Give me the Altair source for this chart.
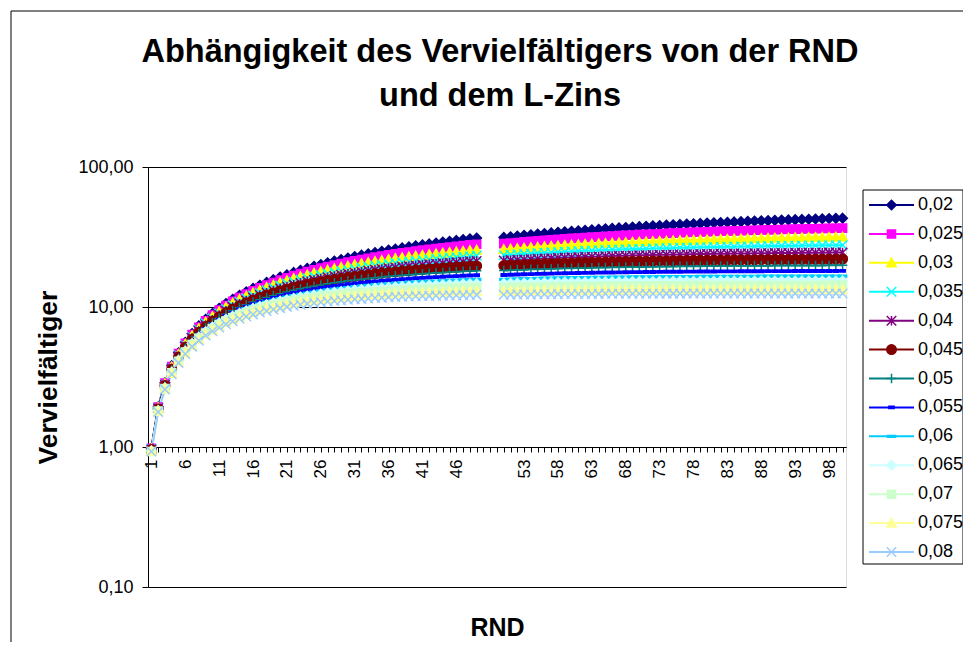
import json
import altair as alt
import pandas as pd

# ---------------- data ----------------
zins = ["0,02", "0,025", "0,03", "0,035", "0,04", "0,045", "0,05",
        "0,055", "0,06", "0,065", "0,07", "0,075", "0,08"]
rnd = list(range(1, 101))
gap_labels = [" ", "  ", "   "]  # three empty rows between RND 49 and 50

v_002 = [0.98, 1.94, 2.88, 3.81, 4.71, 5.60, 6.47, 7.33, 8.16, 8.98,
         9.79, 10.58, 11.35, 12.11, 12.85, 13.58, 14.29, 14.99, 15.68, 16.35,
         17.01, 17.66, 18.29, 18.91, 19.52, 20.12, 20.71, 21.28, 21.84, 22.40,
         22.94, 23.47, 23.99, 24.50, 25.00, 25.49, 25.97, 26.44, 26.90, 27.36,
         27.80, 28.23, 28.66, 29.08, 29.49, 29.89, 30.29, 30.67, 31.05, 31.42,
         31.79, 32.14, 32.50, 32.84, 33.17, 33.50, 33.83, 34.15, 34.46, 34.76,
         35.06, 35.35, 35.64, 35.92, 36.20, 36.47, 36.73, 36.99, 37.25, 37.50,
         37.74, 37.98, 38.22, 38.45, 38.68, 38.90, 39.12, 39.33, 39.54, 39.74,
         39.95, 40.14, 40.34, 40.53, 40.71, 40.89, 41.07, 41.25, 41.42, 41.59,
         41.75, 41.91, 42.07, 42.23, 42.38, 42.53, 42.68, 42.82, 42.96, 43.10]
v_0025 = [0.98, 1.93, 2.86, 3.76, 4.65, 5.51, 6.35, 7.17, 7.97, 8.75,
          9.51, 10.26, 10.98, 11.69, 12.38, 13.06, 13.71, 14.35, 14.98, 15.59,
          16.18, 16.77, 17.33, 17.89, 18.42, 18.95, 19.46, 19.96, 20.45, 20.93,
          21.40, 21.85, 22.29, 22.72, 23.15, 23.56, 23.96, 24.35, 24.73, 25.10,
          25.47, 25.82, 26.17, 26.50, 26.83, 27.15, 27.47, 27.77, 28.07, 28.36,
          28.65, 28.92, 29.19, 29.46, 29.71, 29.96, 30.21, 30.45, 30.68, 30.91,
          31.13, 31.35, 31.56, 31.76, 31.96, 32.16, 32.35, 32.54, 32.72, 32.90,
          33.07, 33.24, 33.41, 33.57, 33.72, 33.88, 34.03, 34.17, 34.31, 34.45,
          34.59, 34.72, 34.85, 34.97, 35.10, 35.22, 35.33, 35.45, 35.56, 35.67,
          35.77, 35.87, 35.98, 36.07, 36.17, 36.26, 36.35, 36.44, 36.53, 36.61]
v_003 = [0.97, 1.91, 2.83, 3.72, 4.58, 5.42, 6.23, 7.02, 7.79, 8.53,
         9.25, 9.95, 10.64, 11.30, 11.94, 12.56, 13.17, 13.75, 14.32, 14.88,
         15.42, 15.94, 16.44, 16.94, 17.41, 17.88, 18.33, 18.76, 19.19, 19.60,
         20.00, 20.39, 20.77, 21.13, 21.49, 21.83, 22.17, 22.49, 22.81, 23.11,
         23.41, 23.70, 23.98, 24.25, 24.52, 24.78, 25.02, 25.27, 25.50, 25.73,
         25.95, 26.17, 26.38, 26.58, 26.77, 26.97, 27.15, 27.33, 27.51, 27.68,
         27.84, 28.00, 28.16, 28.31, 28.45, 28.60, 28.73, 28.87, 29.00, 29.12,
         29.25, 29.37, 29.48, 29.59, 29.70, 29.81, 29.91, 30.01, 30.11, 30.20,
         30.29, 30.38, 30.47, 30.55, 30.63, 30.71, 30.79, 30.86, 30.93, 31.00,
         31.07, 31.14, 31.20, 31.26, 31.32, 31.38, 31.44, 31.49, 31.55, 31.60]
v_0035 = [0.97, 1.90, 2.80, 3.67, 4.52, 5.33, 6.11, 6.87, 7.61, 8.32,
          9.00, 9.66, 10.30, 10.92, 11.52, 12.09, 12.65, 13.19, 13.71, 14.21,
          14.70, 15.17, 15.62, 16.06, 16.48, 16.89, 17.29, 17.67, 18.04, 18.39,
          18.74, 19.07, 19.39, 19.70, 20.00, 20.29, 20.57, 20.84, 21.10, 21.36,
          21.60, 21.83, 22.06, 22.28, 22.50, 22.70, 22.90, 23.09, 23.28, 23.46,
          23.63, 23.80, 23.96, 24.11, 24.26, 24.41, 24.55, 24.69, 24.82, 24.94,
          25.07, 25.19, 25.30, 25.41, 25.52, 25.62, 25.72, 25.82, 25.91, 26.00,
          26.09, 26.17, 26.25, 26.33, 26.41, 26.48, 26.55, 26.62, 26.69, 26.75,
          26.81, 26.87, 26.93, 26.98, 27.04, 27.09, 27.14, 27.19, 27.23, 27.28,
          27.32, 27.37, 27.41, 27.45, 27.48, 27.52, 27.56, 27.59, 27.62, 27.66]
v_004 = [0.96, 1.89, 2.78, 3.63, 4.45, 5.24, 6.00, 6.73, 7.44, 8.11,
         8.76, 9.39, 9.99, 10.56, 11.12, 11.65, 12.17, 12.66, 13.13, 13.59,
         14.03, 14.45, 14.86, 15.25, 15.62, 15.98, 16.33, 16.66, 16.98, 17.29,
         17.59, 17.87, 18.15, 18.41, 18.66, 18.91, 19.14, 19.37, 19.58, 19.79,
         19.99, 20.19, 20.37, 20.55, 20.72, 20.88, 21.04, 21.20, 21.34, 21.48,
         21.62, 21.75, 21.87, 21.99, 22.11, 22.22, 22.33, 22.43, 22.53, 22.62,
         22.71, 22.80, 22.89, 22.97, 23.05, 23.12, 23.19, 23.26, 23.33, 23.39,
         23.46, 23.52, 23.57, 23.63, 23.68, 23.73, 23.78, 23.83, 23.87, 23.92,
         23.96, 24.00, 24.04, 24.07, 24.11, 24.14, 24.18, 24.21, 24.24, 24.27,
         24.30, 24.32, 24.35, 24.37, 24.40, 24.42, 24.44, 24.46, 24.49, 24.51]
v_0045 = [0.96, 1.87, 2.75, 3.59, 4.39, 5.16, 5.89, 6.60, 7.27, 7.91,
          8.53, 9.12, 9.68, 10.22, 10.74, 11.23, 11.71, 12.16, 12.59, 13.01,
          13.40, 13.78, 14.15, 14.50, 14.83, 15.15, 15.45, 15.74, 16.02, 16.29,
          16.54, 16.79, 17.02, 17.25, 17.46, 17.67, 17.86, 18.05, 18.23, 18.40,
          18.57, 18.72, 18.87, 19.02, 19.16, 19.29, 19.41, 19.54, 19.65, 19.76,
          19.87, 19.97, 20.07, 20.16, 20.25, 20.33, 20.41, 20.49, 20.57, 20.64,
          20.71, 20.77, 20.83, 20.89, 20.95, 21.01, 21.06, 21.11, 21.16, 21.20,
          21.25, 21.29, 21.33, 21.37, 21.40, 21.44, 21.47, 21.50, 21.54, 21.57,
          21.59, 21.62, 21.65, 21.67, 21.70, 21.72, 21.74, 21.76, 21.78, 21.80,
          21.82, 21.83, 21.85, 21.87, 21.88, 21.90, 21.91, 21.92, 21.94, 21.95]
v_005 = [0.95, 1.86, 2.72, 3.55, 4.33, 5.08, 5.79, 6.46, 7.11, 7.72,
         8.31, 8.86, 9.39, 9.90, 10.38, 10.84, 11.27, 11.69, 12.09, 12.46,
         12.82, 13.16, 13.49, 13.80, 14.09, 14.38, 14.64, 14.90, 15.14, 15.37,
         15.59, 15.80, 16.00, 16.19, 16.37, 16.55, 16.71, 16.87, 17.02, 17.16,
         17.29, 17.42, 17.55, 17.66, 17.77, 17.88, 17.98, 18.08, 18.17, 18.26,
         18.34, 18.42, 18.49, 18.57, 18.63, 18.70, 18.76, 18.82, 18.88, 18.93,
         18.98, 19.03, 19.08, 19.12, 19.16, 19.20, 19.24, 19.28, 19.31, 19.34,
         19.37, 19.40, 19.43, 19.46, 19.48, 19.51, 19.53, 19.56, 19.58, 19.60,
         19.62, 19.63, 19.65, 19.67, 19.68, 19.70, 19.71, 19.73, 19.74, 19.75,
         19.76, 19.78, 19.79, 19.80, 19.81, 19.82, 19.82, 19.83, 19.84, 19.85]
v_0055 = [0.95, 1.85, 2.70, 3.51, 4.27, 5.00, 5.68, 6.33, 6.95, 7.54,
          8.09, 8.62, 9.12, 9.59, 10.04, 10.46, 10.86, 11.25, 11.61, 11.95,
          12.28, 12.58, 12.88, 13.15, 13.41, 13.66, 13.90, 14.12, 14.33, 14.53,
          14.72, 14.90, 15.08, 15.24, 15.39, 15.54, 15.67, 15.80, 15.93, 16.05,
          16.16, 16.26, 16.36, 16.46, 16.55, 16.63, 16.71, 16.79, 16.86, 16.93,
          17.00, 17.06, 17.12, 17.17, 17.23, 17.28, 17.32, 17.37, 17.41, 17.45,
          17.49, 17.52, 17.56, 17.59, 17.62, 17.65, 17.68, 17.70, 17.73, 17.75,
          17.78, 17.80, 17.82, 17.84, 17.85, 17.87, 17.89, 17.90, 17.92, 17.93,
          17.94, 17.96, 17.97, 17.98, 17.99, 18.00, 18.01, 18.02, 18.03, 18.04,
          18.04, 18.05, 18.06, 18.06, 18.07, 18.08, 18.08, 18.09, 18.09, 18.10]
v_006 = [0.94, 1.83, 2.67, 3.47, 4.21, 4.92, 5.58, 6.21, 6.80, 7.36,
         7.89, 8.38, 8.85, 9.29, 9.71, 10.11, 10.48, 10.83, 11.16, 11.47,
         11.76, 12.04, 12.30, 12.55, 12.78, 13.00, 13.21, 13.41, 13.59, 13.76,
         13.93, 14.08, 14.23, 14.37, 14.50, 14.62, 14.74, 14.85, 14.95, 15.05,
         15.14, 15.22, 15.31, 15.38, 15.46, 15.52, 15.59, 15.65, 15.71, 15.76,
         15.81, 15.86, 15.91, 15.95, 15.99, 16.03, 16.06, 16.10, 16.13, 16.16,
         16.19, 16.22, 16.24, 16.27, 16.29, 16.31, 16.33, 16.35, 16.37, 16.38,
         16.40, 16.42, 16.43, 16.44, 16.46, 16.47, 16.48, 16.49, 16.50, 16.51,
         16.52, 16.53, 16.53, 16.54, 16.55, 16.56, 16.56, 16.57, 16.57, 16.58,
         16.58, 16.59, 16.59, 16.60, 16.60, 16.60, 16.61, 16.61, 16.61, 16.62]
v_0065 = [0.94, 1.82, 2.65, 3.43, 4.16, 4.84, 5.48, 6.09, 6.66, 7.19,
          7.69, 8.16, 8.60, 9.01, 9.40, 9.77, 10.11, 10.43, 10.73, 11.02,
          11.28, 11.54, 11.77, 11.99, 12.20, 12.39, 12.58, 12.75, 12.91, 13.06,
          13.20, 13.33, 13.46, 13.58, 13.69, 13.79, 13.89, 13.98, 14.07, 14.15,
          14.22, 14.29, 14.36, 14.42, 14.48, 14.54, 14.59, 14.64, 14.68, 14.72,
          14.76, 14.80, 14.84, 14.87, 14.90, 14.93, 14.96, 14.99, 15.01, 15.03,
          15.05, 15.07, 15.09, 15.11, 15.13, 15.14, 15.16, 15.17, 15.19, 15.20,
          15.21, 15.22, 15.23, 15.24, 15.25, 15.26, 15.26, 15.27, 15.28, 15.28,
          15.29, 15.30, 15.30, 15.31, 15.31, 15.32, 15.32, 15.32, 15.33, 15.33,
          15.33, 15.34, 15.34, 15.34, 15.35, 15.35, 15.35, 15.35, 15.35, 15.36]
v_007 = [0.93, 1.81, 2.62, 3.39, 4.10, 4.77, 5.39, 5.97, 6.52, 7.02,
         7.50, 7.94, 8.36, 8.75, 9.11, 9.45, 9.76, 10.06, 10.34, 10.59,
         10.84, 11.06, 11.27, 11.47, 11.65, 11.83, 11.99, 12.14, 12.28, 12.41,
         12.53, 12.65, 12.75, 12.85, 12.95, 13.04, 13.12, 13.19, 13.26, 13.33,
         13.39, 13.45, 13.51, 13.56, 13.61, 13.65, 13.69, 13.73, 13.77, 13.80,
         13.83, 13.86, 13.89, 13.92, 13.94, 13.96, 13.98, 14.00, 14.02, 14.04,
         14.06, 14.07, 14.08, 14.10, 14.11, 14.12, 14.13, 14.14, 14.15, 14.16,
         14.17, 14.18, 14.18, 14.19, 14.20, 14.20, 14.21, 14.21, 14.22, 14.22,
         14.23, 14.23, 14.23, 14.24, 14.24, 14.24, 14.25, 14.25, 14.25, 14.25,
         14.26, 14.26, 14.26, 14.26, 14.26, 14.26, 14.27, 14.27, 14.27, 14.27]
v_0075 = [0.93, 1.80, 2.60, 3.35, 4.05, 4.69, 5.30, 5.86, 6.38, 6.86,
          7.32, 7.74, 8.13, 8.49, 8.83, 9.14, 9.43, 9.71, 9.96, 10.19,
          10.41, 10.62, 10.81, 10.98, 11.15, 11.30, 11.44, 11.57, 11.70, 11.81,
          11.92, 12.02, 12.11, 12.19, 12.27, 12.35, 12.42, 12.48, 12.54, 12.59,
          12.65, 12.69, 12.74, 12.78, 12.82, 12.85, 12.89, 12.92, 12.95, 12.97,
          13.00, 13.02, 13.04, 13.06, 13.08, 13.10, 13.12, 13.13, 13.15, 13.16,
          13.17, 13.18, 13.19, 13.20, 13.21, 13.22, 13.23, 13.24, 13.24, 13.25,
          13.25, 13.26, 13.27, 13.27, 13.27, 13.28, 13.28, 13.29, 13.29, 13.29,
          13.30, 13.30, 13.30, 13.30, 13.30, 13.31, 13.31, 13.31, 13.31, 13.31,
          13.31, 13.32, 13.32, 13.32, 13.32, 13.32, 13.32, 13.32, 13.32, 13.32]
v_008 = [0.93, 1.78, 2.58, 3.31, 3.99, 4.62, 5.21, 5.75, 6.25, 6.71,
         7.14, 7.54, 7.90, 8.24, 8.56, 8.85, 9.12, 9.37, 9.60, 9.82,
         10.02, 10.20, 10.37, 10.53, 10.67, 10.81, 10.94, 11.05, 11.16, 11.26,
         11.35, 11.43, 11.51, 11.59, 11.65, 11.72, 11.78, 11.83, 11.88, 11.92,
         11.97, 12.01, 12.04, 12.08, 12.11, 12.14, 12.16, 12.19, 12.21, 12.23,
         12.25, 12.27, 12.29, 12.30, 12.32, 12.33, 12.34, 12.36, 12.37, 12.38,
         12.39, 12.39, 12.40, 12.41, 12.42, 12.42, 12.43, 12.43, 12.44, 12.44,
         12.45, 12.45, 12.45, 12.46, 12.46, 12.46, 12.47, 12.47, 12.47, 12.47,
         12.48, 12.48, 12.48, 12.48, 12.48, 12.48, 12.48, 12.49, 12.49, 12.49,
         12.49, 12.49, 12.49, 12.49, 12.49, 12.49, 12.49, 12.49, 12.49, 12.49]

series = [v_002, v_0025, v_003, v_0035, v_004, v_0045, v_005,
          v_0055, v_006, v_0065, v_007, v_0075, v_008]

colors = ["#000080", "#FF00FF", "#FFFF00", "#00FFFF", "#800080", "#800000",
          "#008080", "#0000FF", "#00CCFF", "#CCFFFF", "#CCFFCC", "#FFFF99",
          "#99CCFF"]
DIAMOND = "M0,-1L1,0L0,1L-1,0Z"
SQUARE = "M-0.85,-0.85L0.85,-0.85L0.85,0.85L-0.85,0.85Z"
TRIANGLE = "M0,-1L1,0.8L-1,0.8Z"
XMARK = "M-1,-1L1,1M-1,1L1,-1"
STAR = "M-1,-1L1,1M-1,1L1,-1M0,-1L0,1"
PLUS = "M-1,0L1,0M0,-1L0,1"
DASH_S = "M-0.55,-0.25L0.55,-0.25L0.55,0.25L-0.55,0.25Z"
DASH_L = "M-0.85,-0.2L0.85,-0.2L0.85,0.2L-0.85,0.2Z"
shapes = [DIAMOND, SQUARE, TRIANGLE, XMARK, STAR, "circle", PLUS,
          DASH_S, DASH_L, DIAMOND, SQUARE, TRIANGLE, XMARK]

# ---------------- table ----------------
x_domain = ([str(n) for n in rnd if n <= 49] + gap_labels +
            [str(n) for n in rnd if n >= 50])
shown = [c for i, c in enumerate(x_domain) if i % 5 == 0 and c.strip()]

rows = []
for z, vals in zip(zins, series):
    assert len(vals) == 100, z
    for n, v in zip(rnd, vals):
        rows.append({"Zins": z, "RND": str(n), "n": n, "V": v,
                     "seg": 0 if n <= 49 else 1})
df = pd.DataFrame(rows)
leg_df = pd.DataFrame({"Zins": zins})
one = pd.DataFrame({"k": [0]})

FONT = "Liberation Sans"
color_scale = alt.Scale(domain=zins, range=colors)
shape_scale = alt.Scale(domain=zins, range=shapes)
x_scale = alt.Scale(type="point", domain=x_domain, padding=0.5)
y_scale = alt.Scale(type="log", domain=[0.1, 100])

label_expr = "indexof(%s, datum.label) >= 0 ? datum.label : ''" % json.dumps(shown)

x_axis = alt.Axis(
    title="RND", orient="bottom", offset=-140, labelAngle=-90,
    labelFontSize=17, labelPadding=7, labelExpr=label_expr,
    labelOverlap=False, tickSize=5, tickColor="black", domainColor="black",
    labelColor="black", grid=False, titleFontSize=25, titleFontWeight="bold",
    titleY=188, titleBaseline="alphabetic", titleColor="black")
y_axis = alt.Axis(
    title="Vervielfältiger", values=[0.1, 1, 10, 100],
    labelExpr="replace(format(datum.value, '.2f'), '.', ',')",
    labelFontSize=18, labelPadding=9, tickSize=6, tickColor="black",
    domainColor="black", labelColor="black", grid=True, gridColor="black",
    gridOpacity=1, gridWidth=1, titleFontSize=26.5, titleFontWeight="bold",
    titleX=-100, titleY=210, titleAngle=270, titleAlign="center",
    titleBaseline="middle", titleColor="black")

lines = alt.Chart(df).mark_line(strokeWidth=2).encode(
    x=alt.X("RND:O", scale=x_scale, axis=x_axis),
    y=alt.Y("V:Q", scale=y_scale, axis=y_axis),
    color=alt.Color("Zins:N", scale=color_scale, legend=None),
    detail="seg:N",
    order=alt.Order("n:Q"),
)
points = alt.Chart(df).mark_point(filled=True, size=90, strokeWidth=1.5,
                                  opacity=1).encode(
    x=alt.X("RND:O", scale=x_scale),
    y=alt.Y("V:Q", scale=y_scale, axis=None),
    color=alt.Color("Zins:N", scale=color_scale, legend=None),
    stroke=alt.Stroke("Zins:N", scale=color_scale, legend=None),
    shape=alt.Shape("Zins:N", scale=shape_scale, legend=None),
)

# chart-area frame (top and left edges visible in the window)
frame_top = alt.Chart(one).mark_rule(color="black", strokeWidth=1).encode(
    x=alt.value(-137), x2=alt.value(830), y=alt.value(-156))
frame_left = alt.Chart(one).mark_rule(color="black", strokeWidth=1).encode(
    x=alt.value(-137), y=alt.value(-156), y2=alt.value(480))

# legend
leg_y = alt.Y("Zins:N", scale=alt.Scale(type="point", domain=zins,
                                         range=[38, 385], padding=0),
              axis=None)
box = alt.Chart(one).mark_rect(fill="white", stroke="black",
                               strokeWidth=1).encode(
    x=alt.value(715), x2=alt.value(815), y=alt.value(23), y2=alt.value(397))
leg_rules = alt.Chart(leg_df).mark_rule(strokeWidth=2).encode(
    x=alt.value(721), x2=alt.value(766), y=leg_y,
    color=alt.Color("Zins:N", scale=color_scale, legend=None))
leg_points = alt.Chart(leg_df).mark_point(filled=True, size=90,
                                          strokeWidth=1.5, opacity=1).encode(
    x=alt.value(743.5), y=leg_y,
    color=alt.Color("Zins:N", scale=color_scale, legend=None),
    stroke=alt.Stroke("Zins:N", scale=color_scale, legend=None),
    shape=alt.Shape("Zins:N", scale=shape_scale, legend=None))
leg_text = alt.Chart(leg_df).mark_text(align="left", baseline="middle",
                                       fontSize=18, font=FONT,
                                       color="black").encode(
    x=alt.value(770), y=leg_y, text="Zins:N")

chart = alt.layer(
    frame_top, frame_left, lines, points, box, leg_rules, leg_points, leg_text
).resolve_scale(y="independent").properties(
    width=698, height=420,
    autosize=alt.AutoSizeParams(type="none"),
    padding={"left": 140, "top": 159, "right": 117, "bottom": 55},
    background="white",
    title=alt.TitleParams(
        text=["Abhängigkeit des Vervielfältigers von der RND",
              "und dem L-Zins"],
        fontSize=32.5, fontWeight="bold", font=FONT, color="black",
        anchor="middle", frame="group", lineHeight=44, offset=-102, dx=3),
).configure_view(
    fill="#E4E4E4", stroke="#808080", strokeWidth=2
).configure(font=FONT)

chart.save("out.html", embed_options={"renderer": "svg", "actions": False})
